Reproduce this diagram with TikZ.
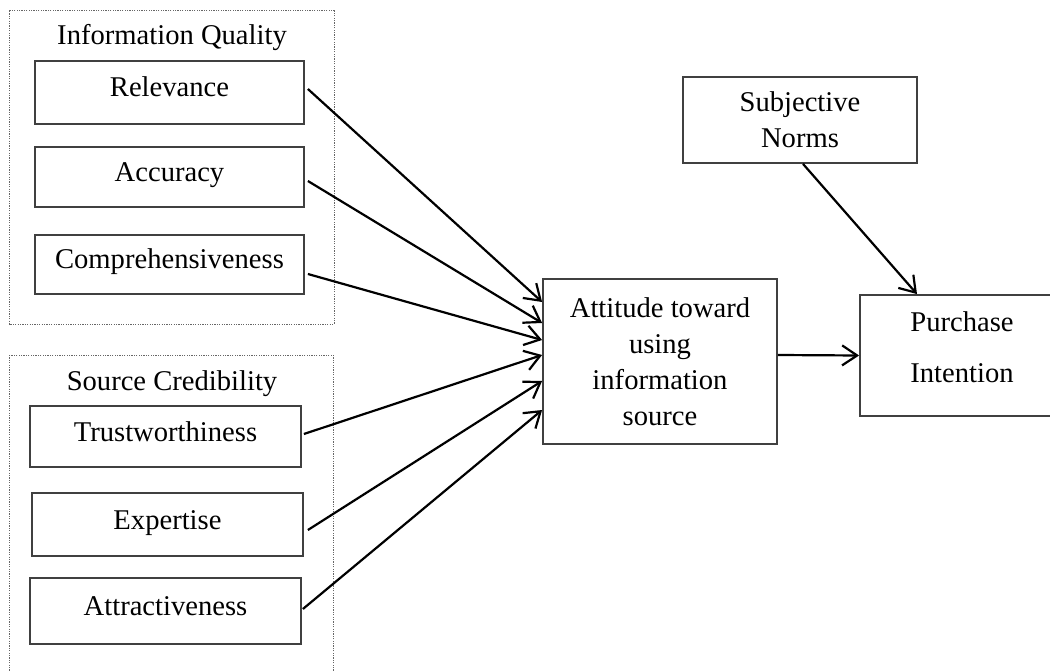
\documentclass[tikz,border=0pt]{standalone}
\usepackage{fontspec}
\setmainfont{Liberation Serif}
\usetikzlibrary{arrows.meta}
\begin{document}
\begin{tikzpicture}[x=1pt,y=-1pt,
  every node/.style={font=\fontsize{28.6}{36}\selectfont, align=center, inner sep=0pt},
  factor/.style={draw=black!75, line width=1.8pt, minimum width=#1},
  oneline/.style={text height=20pt, text depth=11pt},
  group/.style={draw=black!60, line width=1pt, dash pattern=on 1.2pt off 1.2pt},
  link/.style={line width=2.2pt, -{Straight Barb[length=15pt,width=20pt,line width=2.2pt]}}
]
\useasboundingbox (0,0) rectangle (1050,671);

% construct groups
\draw[group] (9,11) rectangle (334,324);
\draw[group] (9,355) rectangle (333,700);
\node (iqtitle) at (172,38) {Information Quality};
\node (sctitle) at (172,384) {Source Credibility};

% information quality items
\node[factor=269pt, minimum height=63pt, oneline] (rel)  at (169.5,92.5) {Relevance};
\node[factor=269pt, minimum height=60pt, oneline] (acc)  at (169.5,177)  {Accuracy};
\node[factor=269pt, minimum height=59pt, oneline] (comp) at (169.5,264.5) {Comprehensiveness};

% source credibility items
\node[factor=271pt, minimum height=61pt, oneline] (trust) at (165.5,436.5) {Trustworthiness};
\node[factor=271pt, minimum height=63pt, oneline] (expt)  at (167.5,524.5) {Expertise};
\node[factor=271pt, minimum height=66pt, oneline] (attr)  at (165.5,611)   {Attractiveness};

% attitude, norms, intention
\node[factor=234pt, minimum height=165pt] (att) at (660,361.5)
  {Attitude toward\\using\\information\\source};
\node[factor=234pt, minimum height=86pt] (norms) at (800,120)
  {Subjective\\Norms};
\node[factor=204pt, minimum height=121pt,
      font=\fontsize{28.6}{51}\selectfont] (pi) at (962,355.5)
  {Purchase\\Intention\rule[-16pt]{0pt}{16pt}};

% paths into attitude
\draw[link] ([xshift=3pt,yshift=3.5pt]rel.east)   -- ([yshift=59.5pt]att.west);
\draw[link] ([xshift=3pt,yshift=-4pt]acc.east)    -- ([yshift=38.5pt]att.west);
\draw[link] ([xshift=3pt,yshift=-9.5pt]comp.east) -- ([yshift=21.5pt]att.west);
\draw[link] ([xshift=2pt,yshift=2.5pt]trust.east) -- ([yshift=6.5pt]att.west);
\draw[link] ([xshift=4pt,yshift=-5.5pt]expt.east) -- ([yshift=-19.5pt]att.west);
\draw[link] ([xshift=1pt,yshift=2pt]attr.east)    -- ([yshift=-48.5pt]att.west);

% paths into intention
\draw[link] ([yshift=6.5pt]att.east) -- (pi.west);
\draw[link] ([xshift=3pt]norms.south) -- ([xshift=-45pt]pi.north);
\end{tikzpicture}
\end{document}
